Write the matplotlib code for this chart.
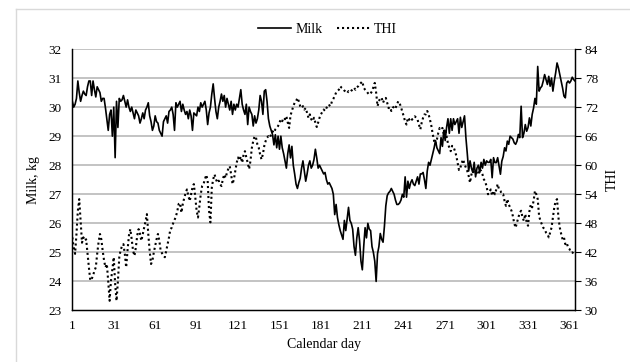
"""
Daily milk yield against temperature-humidity index (THI) over the calendar year.

Milk (kg) on the left axis, THI on the right axis, one point per calendar day.
Output: out.png
"""
import numpy as np
import matplotlib

matplotlib.use("Agg")
import matplotlib.pyplot as plt  # noqa: E402
from matplotlib.lines import Line2D  # noqa: E402

# Daily mean milk yield, kg (day 1 .. 365)
MILK = [
    30.2, 30.0, 30.1, 30.3, 30.9, 30.5, 30.2, 30.4, 30.55, 30.45,
    30.4, 30.7, 30.9, 30.9, 30.4, 30.9, 30.6, 30.35, 30.7, 30.6,
    30.5, 30.2, 30.3, 30.3, 29.97, 29.6, 29.2, 29.75, 29.9, 29.0,
    30.0, 28.26, 30.2, 29.3, 30.3, 30.2, 30.25, 30.4, 30.2, 30.0,
    30.25, 30.0, 29.85, 30.0, 29.8, 29.6, 29.9, 29.8, 29.7, 29.45,
    29.6, 29.8, 29.6, 29.9, 30.0, 30.15, 29.7, 29.5, 29.2, 29.35,
    29.7, 29.5, 29.45, 29.2, 29.1, 29.0, 29.5, 29.6, 29.7, 29.45,
    29.85, 29.9, 30.0, 29.75, 29.2, 30.15, 30.0, 30.1, 30.2, 29.85,
    30.1, 29.9, 29.75, 29.85, 29.6, 29.9, 29.7, 29.2, 29.8, 29.75,
    29.7, 30.0, 29.85, 30.15, 30.0, 30.1, 30.2, 29.9, 29.4, 29.8,
    30.0, 30.45, 30.8, 30.3, 29.85, 29.6, 30.0, 30.2, 30.45, 30.2,
    30.4, 30.0, 30.3, 30.1, 29.9, 30.2, 29.75, 30.1, 29.9, 30.1,
    30.0, 30.3, 30.6, 30.1, 29.9, 29.75, 30.1, 29.4, 30.0, 29.85,
    29.75, 29.35, 29.7, 29.45, 29.6, 29.9, 30.4, 30.2, 29.75, 30.55,
    30.6, 30.2, 29.6, 29.35, 29.2, 29.05, 28.7, 29.05, 28.6, 29.0,
    28.55, 29.0, 28.6, 28.4, 28.15, 27.9, 28.4, 28.7, 28.25, 28.65,
    28.0, 27.7, 27.35, 27.2, 27.4, 27.55, 27.9, 28.15, 27.8, 27.45,
    27.7, 28.0, 28.15, 27.9, 28.0, 28.2, 28.55, 28.25, 27.9, 28.0,
    27.9, 27.8, 27.7, 27.75, 27.5, 27.35, 27.4, 27.3, 27.2, 27.0,
    26.3, 26.65, 26.2, 25.95, 25.75, 25.6, 25.45, 26.1, 25.75, 26.15,
    26.55, 26.1, 26.0, 25.8, 25.2, 24.9, 25.5, 25.85, 25.4, 24.7,
    24.4, 25.2, 25.85, 25.5, 26.0, 25.8, 25.75, 25.2, 25.0, 24.7,
    24.0, 24.95, 25.2, 25.65, 25.45, 25.35, 25.9, 26.6, 26.95, 27.05,
    27.1, 27.2, 27.1, 27.0, 26.8, 26.65, 26.65, 26.7, 26.8, 27.0,
    26.9, 27.6, 26.9, 27.45, 27.2, 27.4, 27.5, 27.35, 27.3, 27.45,
    27.6, 27.35, 27.7, 27.7, 27.75, 27.5, 27.2, 27.8, 28.1, 28.0,
    28.2, 28.4, 28.6, 28.85, 28.6, 28.5, 28.4, 28.95, 28.65, 29.2,
    28.85, 29.3, 29.6, 29.1, 29.6, 29.2, 29.6, 29.4, 29.5, 29.6,
    29.1, 29.65, 29.3, 29.5, 29.7, 28.95, 28.4, 27.8, 28.15, 27.9,
    27.75, 28.1, 27.6, 27.9, 28.0, 27.75, 28.1, 27.9, 28.2, 28.0,
    28.15, 28.1, 28.1, 28.2, 27.57, 28.26, 28.09, 28.09, 28.26, 27.97,
    27.69, 28.14, 28.3, 28.6, 28.49, 28.83, 28.72, 29.0, 28.95, 28.9,
    28.77, 28.72, 28.83, 29.06, 28.95, 30.03, 28.95, 29.1, 29.4, 29.17,
    29.3, 29.63, 29.35, 29.75, 29.97, 30.3, 30.1, 31.4, 30.55, 30.66,
    30.72, 30.9, 31.12, 30.95, 30.78, 31.06, 30.72, 31.0, 30.55, 30.9,
    31.18, 31.52, 31.35, 31.12, 30.9, 30.66, 30.38, 30.32, 30.83, 30.9,
    30.83, 30.9, 31.03, 30.95, 30.9,
]

# Daily mean THI (day 1 .. 365)
THI = [
    45.1, 43.0, 41.7, 45.8, 50.6, 53.0, 48.5, 44.0, 45.1, 44.4,
    44.7, 41.7, 38.9, 36.2, 36.5, 37.2, 38.2, 38.9, 41.7, 44.1,
    45.8, 44.7, 42.3, 40.3, 38.9, 39.6, 36.0, 32.0, 36.2, 38.5,
    41.0, 35.5, 32.0, 36.0, 41.0, 42.5, 43.3, 43.7, 41.7, 38.9,
    42.5, 45.5, 46.8, 44.7, 42.3, 41.3, 43.0, 45.5, 46.8, 45.8,
    44.4, 45.8, 47.1, 48.4, 49.9, 45.8, 42.3, 39.6, 40.3, 42.0,
    43.4, 44.7, 45.8, 44.4, 42.3, 41.8, 41.3, 41.0, 42.3, 43.7,
    45.1, 46.8, 47.1, 48.0, 48.7, 49.4, 50.5, 52.0, 52.2, 50.2,
    52.0, 53.2, 54.2, 55.0, 53.7, 52.6, 54.0, 55.4, 56.1, 53.5,
    50.6, 49.2, 51.5, 54.0, 55.7, 56.1, 57.1, 58.0, 56.8, 50.6,
    48.2, 55.4, 57.1, 58.1, 57.1, 56.4, 56.8, 56.1, 55.7, 57.1,
    58.1, 57.4, 58.5, 59.3, 59.8, 58.1, 56.1, 57.1, 58.8, 60.5,
    61.6, 61.0, 61.8, 60.5, 62.2, 62.9, 61.6, 60.5, 59.2, 60.9,
    63.6, 65.0, 66.0, 65.7, 64.3, 63.6, 62.2, 61.2, 62.3, 64.0,
    65.0, 65.7, 66.0, 65.7, 66.4, 67.0, 66.7, 67.4, 67.7, 68.1,
    68.8, 69.5, 69.1, 69.8, 69.5, 70.1, 68.8, 67.7, 70.3, 71.2,
    72.2, 72.9, 73.2, 73.9, 73.2, 72.2, 71.8, 72.2, 71.5, 71.8,
    70.8, 69.8, 70.5, 69.5, 69.1, 69.8, 68.8, 67.9, 68.8, 69.8,
    70.5, 71.0, 71.5, 71.2, 71.8, 72.5, 72.4, 72.2, 73.2, 73.7,
    74.3, 75.0, 75.3, 75.6, 76.3, 76.0, 75.8, 75.4, 75.2, 74.9,
    75.3, 75.1, 75.4, 75.6, 76.0, 75.6, 76.1, 76.3, 76.7, 77.0,
    77.3, 76.0, 75.6, 75.3, 74.9, 74.6, 74.8, 75.3, 76.1, 77.0,
    75.0, 72.2, 73.2, 73.9, 73.9, 72.9, 73.6, 73.9, 72.9, 71.8,
    72.0, 71.2, 71.8, 72.2, 71.8, 72.5, 73.2, 72.8, 72.0, 71.0,
    70.1, 69.0, 68.4, 69.8, 69.4, 69.8, 69.4, 69.8, 70.1, 69.8,
    69.4, 68.4, 67.4, 68.8, 69.8, 70.5, 70.5, 71.2, 70.5, 69.4,
    68.1, 66.4, 65.0, 64.3, 65.3, 66.7, 67.7, 67.4, 67.7, 66.4,
    67.5, 66.0, 64.5, 63.6, 62.9, 64.0, 63.8, 63.0, 62.0, 60.5,
    59.0, 59.5, 60.5, 61.2, 60.2, 59.5, 58.8, 57.8, 56.4, 58.1,
    58.8, 58.5, 58.1, 58.5, 58.1, 59.2, 58.8, 58.1, 57.1, 56.6,
    55.6, 54.0, 54.4, 55.0, 53.7, 54.7, 54.0, 55.0, 56.1, 55.0,
    54.7, 54.0, 54.0, 52.6, 51.6, 53.0, 51.9, 51.3, 50.6, 49.5,
    48.0, 47.1, 48.2, 49.2, 50.2, 50.6, 49.2, 48.5, 49.9, 48.2,
    47.5, 50.5, 51.9, 51.3, 52.6, 54.7, 54.0, 53.0, 49.5, 48.5,
    47.8, 47.1, 46.8, 46.1, 45.8, 45.1, 46.1, 47.1, 49.2, 51.3,
    52.6, 53.0, 49.2, 47.1, 45.8, 44.7, 45.1, 43.7, 44.0, 43.0,
    42.7, 42.0, 42.0, 41.8, 41.8,
]

DAY_TICKS = [1, 31, 61, 91, 121, 151, 181, 211, 241, 271, 301, 331, 361]
MILK_TICKS = [23, 24, 25, 26, 27, 28, 29, 30, 31, 32]
THI_TICKS = [30, 36, 42, 48, 54, 60, 66, 72, 78, 84]

SERIF = ["Liberation Serif", "DejaVu Serif"]
GRID = "#b3b3b3"
DOTS = (0, (1.0, 1.4))


def main():
    plt.rcParams["font.family"] = SERIF
    days = np.arange(1, len(MILK) + 1)

    fig = plt.figure(figsize=(6.30, 3.62), dpi=100)
    # light frame around the chart area
    fig.add_artist(Line2D([0.025, 1.0], [0.976, 0.976], color="#d9d9d9", lw=1.0,
                          transform=fig.transFigure))
    fig.add_artist(Line2D([0.025, 0.025], [0.0, 0.976], color="#d9d9d9", lw=1.0,
                          transform=fig.transFigure))

    ax = fig.add_axes([0.1148, 0.1423, 0.7979, 0.7223])
    ax2 = ax.twinx()

    ax.set_xlim(1, 365)
    ax.set_ylim(23, 32)
    ax2.set_ylim(30, 84)

    for t in MILK_TICKS[1:]:
        ax.axhline(t, color=GRID, lw=1.1, zorder=0)

    ax.plot(days, MILK, color="black", lw=1.2, zorder=3)
    ax2.plot(days, THI, color="black", lw=1.5, linestyle=DOTS, zorder=3)

    ax.set_xticks(DAY_TICKS)
    ax.set_yticks(MILK_TICKS)
    ax2.set_yticks(THI_TICKS)
    ax.tick_params(axis="x", length=0, pad=7, labelsize=9.5)
    ax.tick_params(axis="y", length=0, pad=8, labelsize=9.5)
    ax2.tick_params(axis="y", length=4, width=0.8, pad=3, labelsize=9.5)

    for a in (ax, ax2):
        a.spines["top"].set_visible(False)
        a.spines["left"].set_linewidth(0.9)
        a.spines["bottom"].set_linewidth(0.9)
        a.spines["right"].set_linewidth(0.9)

    ax.set_xlabel("Calendar day", fontsize=10, labelpad=4)
    ax.set_ylabel("Milk, kg", fontsize=10, labelpad=6)
    ax2.set_ylabel("THI", fontsize=10, labelpad=6)

    handles = [
        Line2D([], [], color="black", lw=1.2),
        Line2D([], [], color="black", lw=1.5, linestyle=DOTS),
    ]
    fig.legend(handles, ["Milk", "THI"], loc="center", bbox_to_anchor=(0.52, 0.918),
               ncol=2, frameon=False, fontsize=10, handlelength=2.4,
               handletextpad=0.3, columnspacing=1.0)

    fig.savefig("out.png", dpi=100)
    plt.close(fig)


if __name__ == "__main__":
    main()
